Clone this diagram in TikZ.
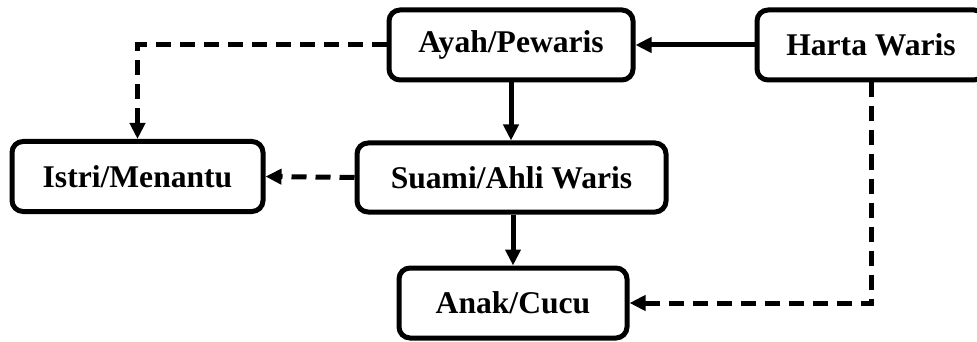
\documentclass[tikz,border=0pt]{standalone}
\usepackage{fontspec}
\setmainfont{Liberation Serif}
\usetikzlibrary{arrows.meta}
\begin{document}
\begin{tikzpicture}[x=1pt,y=-1pt,
  box/.style={draw=black, line width=5pt, rounded corners=11pt, fill=white,
    font=\fontsize{31.6}{36}\selectfont\bfseries, inner sep=0pt},
  link/.style={line width=5pt, -{Triangle[length=16pt,width=15pt]}},
  dlink/.style={link, dash pattern=on 15pt off 9pt}]
\path[use as bounding box, clip] (0,0) rectangle (977,342);
\node[box, minimum width=244pt, minimum height=70pt] (ayah) at (511,45) {Ayah/Pewaris};
\node[box, minimum width=228pt, minimum height=70pt] (harta) at (871,45) {Harta Waris};
\node[box, minimum width=251pt, minimum height=70pt] (istri) at (137.5,176.5) {Istri/Menantu};
\node[box, minimum width=309pt, minimum height=69pt] (suami) at (511.5,177.5) {Suami/Ahli Waris};
\node[box, minimum width=228pt, minimum height=70pt] (anak) at (513,303) {Anak/Cucu};
\draw[link] (harta.west) -- (ayah.east);
\draw[link] (ayah.south) -- (suami.north -| ayah.south);
\draw[link] (anak.north |- suami.south) -- (anak.north);
\draw[dlink] (ayah.west) -| (istri.north);
\draw[dlink] (suami.west) -- (istri.east);
\draw[dlink] (harta.south) |- (anak.east);
\end{tikzpicture}
\end{document}
